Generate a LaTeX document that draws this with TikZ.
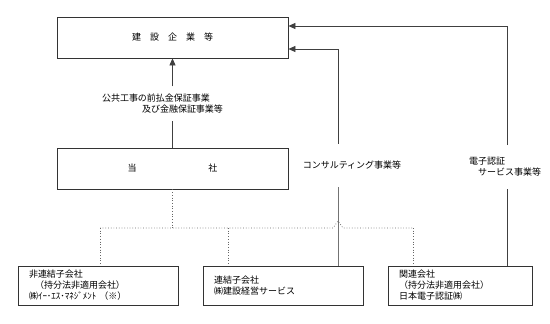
\documentclass[tikz,border=0pt]{standalone}
\usepackage{fontspec}
\setmainfont{Noto Sans CJK JP}
\usetikzlibrary{arrows.meta}

\begin{document}
\begin{tikzpicture}[x=1pt,y=-1pt,line width=0.7pt,
  b/.style={draw=black!80,line width=0.8pt,minimum width=231pt,minimum height=41pt,font=\small},
  c/.style={draw=black!80,line width=0.8pt,minimum height=39pt,align=left,inner xsep=11pt,font=\small},
  l/.style={align=left,inner xsep=0pt,font=\small},
  >={Triangle[length=7pt,width=6pt]}]
\useasboundingbox (0,0) rectangle (550,324);
\node[b] (k) at (172.5,37.5) {建　設　企　業　等};
\node[b] (t) at (172.5,168.5) {当\hspace{72pt}社};
\node[c,text width=138pt] (n1) at (98,285.5) {非連結子会社\\\hspace*{6pt}（持分法非適用会社）\\㈱ｲｰ･ｴｽ･ﾏﾈｼﾞﾒﾝﾄ （※）};
\node[c,text width=138pt] (n2) at (283,285.5) {連結子会社\\㈱建設経営サービス};
\node[c,text width=122pt] (n3) at (460,285.5) {関連会社\\（持分法非適用会社）\\日本電子認証㈱};
\node[l,inner ysep=7pt] (l1) at (162.5,103.5) {公共工事の前払金保証事業\\\hspace*{40pt}及び金融保証事業等};
\node[l,inner ysep=17pt] (l2) at (352,165.5) {コンサルティング事業等};
\node[l,inner ysep=12pt] (l3) at (505,167) {電子認証\\\hspace*{9pt}サービス事業等};
\coordinate (c2) at (338,49);
\coordinate (c3) at (507,26);
\coordinate (d1) at (100,228);
\coordinate (d2) at (228,228);
\coordinate (d3) at (413,228);
\draw[black!75] (t.north) -- (t.north |- l1.south);
\draw[->,black!75] (t.north |- l1.north) -- (k.south);
\draw[black!55,line width=1pt] (n2.north -| c2) -- (c2 |- l2.south);
\draw[->,black!75] (c2 |- l2.north) -- (c2) -- (k.east |- c2);
\draw[black!75] (n3.north -| c3) -- (c3 |- l3.south);
\draw[->,black!75] (c3 |- l3.north) -- (c3) -- (k.east |- c3);
% dotted links to the group companies
\draw[dotted,black!60] (t.south) -- (t.south |- d1);
\draw[dotted,black!60] (d1) -- ++(233,0) -- ++(5,-7) -- ++(5,7) -- (d3);
\draw[dotted,black!60] (d1) -- (n1.north -| d1);
\draw[dotted,black!60] (d2) -- (n2.north -| d2);
\draw[dotted,black!60] (d3) -- (n3.north -| d3);
\end{tikzpicture}
\end{document}
